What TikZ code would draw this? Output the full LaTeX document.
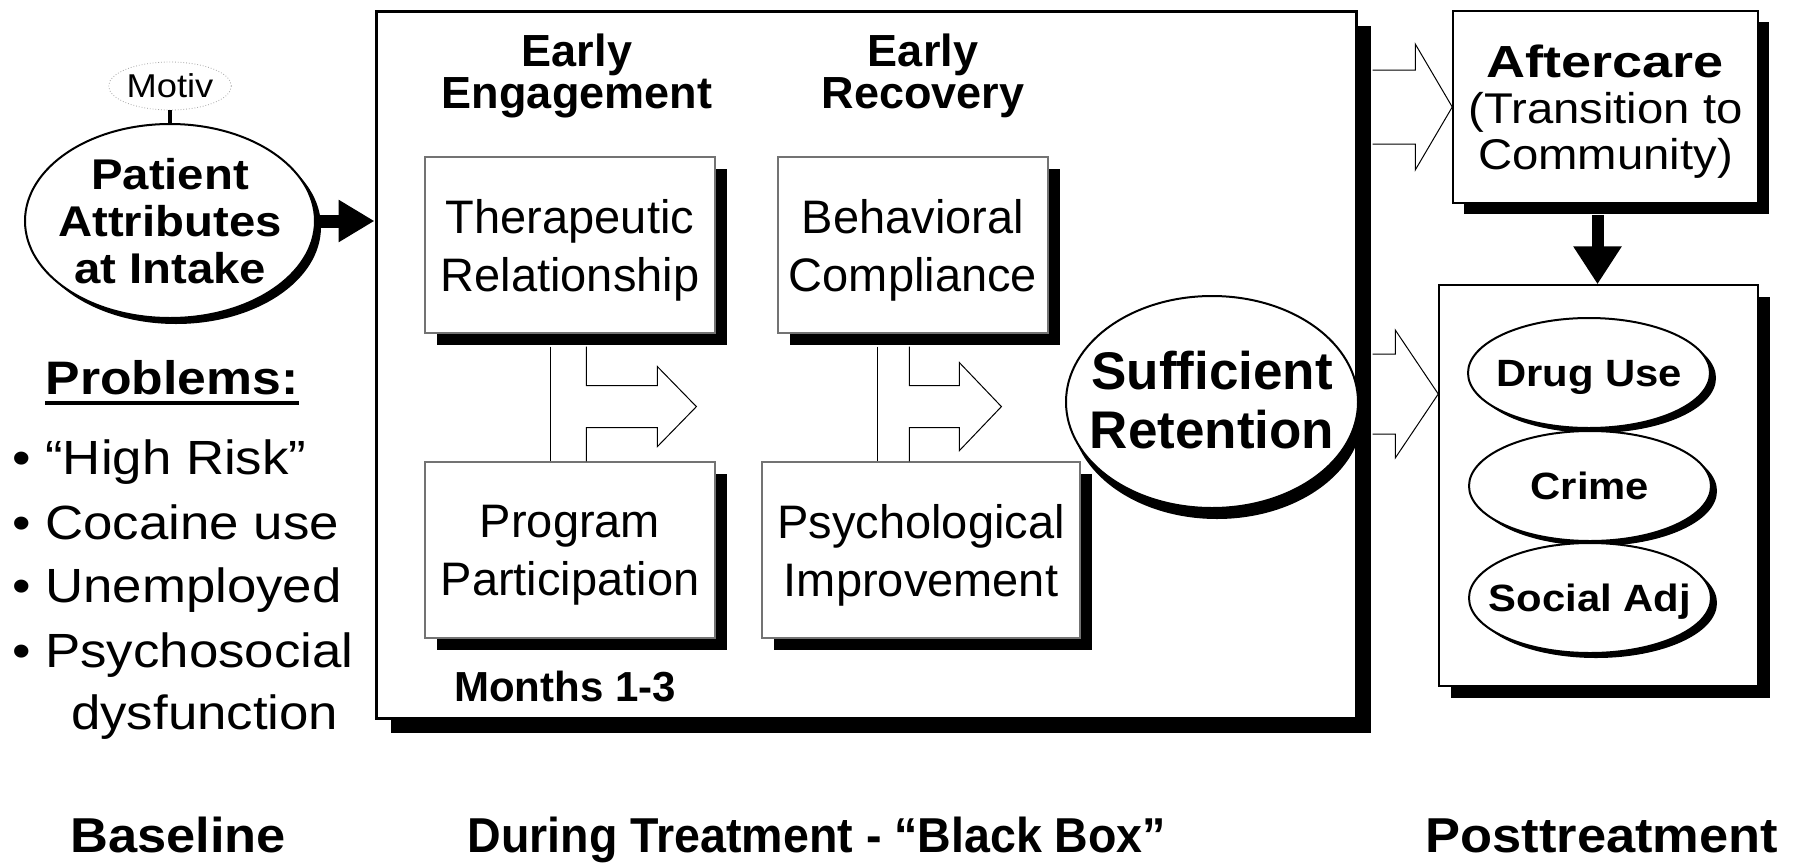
\documentclass[tikz,border=0pt]{standalone}
\usepackage{fontspec}
\setmainfont{Liberation Sans}
\newfontfamily\fA[FakeStretch=1.2]{Liberation Sans}
\newfontfamily\fB[FakeStretch=1.1]{Liberation Sans}
\newfontfamily\fC[FakeStretch=1.07]{Liberation Sans}
\newfontfamily\fD[FakeStretch=0.95]{Liberation Sans}
\usetikzlibrary{shapes.geometric,shadows,arrows.meta,calc}
\begin{document}
\begin{tikzpicture}[x=1pt,y=-1pt,
  shadowed/.style 2 args={drop shadow={shadow xshift=#1, shadow yshift=-#2, fill=black, opacity=1}},
  grayrect/.style={rectangle, draw=black!55, line width=1.2pt, fill=white, align=center, inner sep=0pt,
    minimum height=176pt, text depth=0pt, font=\fontsize{47}{58}\selectfont, shadowed={12pt}{12pt}},
  oval/.style={ellipse, draw, line width=2pt, fill=white, inner sep=0pt},
  outc/.style={oval, minimum width=242pt, minimum height=110pt, shadowed={6pt}{5pt}},
  outct/.style={lbl, text depth=0pt, font=\fB\bfseries\fontsize{38}{44}\selectfont},
  blockarrow/.style={draw, line width=1pt, line join=miter},
  lbl/.style={inner sep=0pt, align=center}
]
\fill[white] (0,0) rectangle (1802,865);
\useasboundingbox (0,0) rectangle (1802,865);

% Baseline column
\node[lbl, ellipse, draw=black!35, dotted, line width=0.8pt, minimum width=94pt, minimum height=48pt,
  font=\fB\fontsize{33}{36}\selectfont] (mot) at (170,86) {Motiv};
\node[oval, minimum width=290pt, minimum height=194pt, shadowed={6pt}{6pt}] (pat) at (170,221) {};
\node[lbl, text depth=0pt, font=\fB\bfseries\fontsize{43}{47}\selectfont] (patt) at (pat.center) {Patient\\Attributes\\at Intake};
\draw[line width=4pt] (mot.south) -- (pat.north);

\node[lbl, anchor=base, font=\fB\bfseries\fontsize{47}{50}\selectfont] (prob) at (172,394) {Problems:};
\draw[line width=3.5pt] ([yshift=-9pt]prob.base west) -- ([yshift=-9pt]prob.base east);

\node[lbl, anchor=base west, font=\fB\fontsize{48}{50}\selectfont] (b1) at (12,474) {•\ “High Risk”};
\node[lbl, anchor=base west, font=\fB\fontsize{48}{50}\selectfont] (b2) at (12,539) {•\ Cocaine use};
\node[lbl, anchor=base west, font=\fB\fontsize{48}{50}\selectfont] (b3) at (12,602) {•\ Unemployed};
\node[lbl, anchor=base west, font=\fB\fontsize{48}{50}\selectfont] (b4) at (12,667) {•\ Psychosocial};
\node[lbl, anchor=base west, font=\fB\fontsize{48}{50}\selectfont] (b5) at (71,729) {dysfunction};

% Black box
\node[draw, line width=3pt, fill=white, minimum width=980pt, minimum height=707pt, inner sep=0pt,
  shadowed={15pt}{15pt}] (bb) at (866,364.5) {};
\draw[line width=13pt, -{Triangle[length=36pt,width=40pt]}] (pat.east) -- (pat.east -| bb.west);

\node[lbl, font=\bfseries\fontsize{45}{38}\selectfont] (ee) at (577,76) {Early\\Engagement};
\node[lbl, font=\bfseries\fontsize{45}{38}\selectfont] (er) at (923,76) {Early\\Recovery};

\node[grayrect, minimum width=290pt] (tr) at (570,245) {Therapeutic\\Relationship};
\node[grayrect, minimum width=270pt] (br) at (913,245) {Behavioral\\Compliance};
\node[grayrect, minimum width=290pt] (pp) at (570,550) {Program\\Participation};
\node[grayrect, minimum width=318pt] (ps) at (921,550) {Psychological\\Improvement};

\draw[blockarrow] ($(tr.south west)+(126,13)$) -- ($(pp.north west)+(126,0)$);
\draw[blockarrow] ($(tr.south west)+(162,13)$) -- ++(0,39) -- ++(71,0) -- ++(0,-19) -- ++(39,40)
  -- ++(-39,40) -- ++(0,-19) -- ++(-71,0) -- ($(pp.north west)+(162,0)$);
\draw[blockarrow] ($(br.south west)+(100,13)$) -- ($(ps.north west)+(116,0)$);
\draw[blockarrow] ($(br.south west)+(132,13)$) -- ++(0,39) -- ++(50,0) -- ++(0,-23) -- ++(42,44)
  -- ++(-42,44) -- ++(0,-23) -- ++(-50,0) -- ($(ps.north west)+(148,0)$);

\node[oval, minimum width=292pt, minimum height=212pt, shadowed={5pt}{11pt}] (suf) at (1212,402) {};
\node[lbl, text depth=0pt, font=\bfseries\fontsize{53}{59}\selectfont] (suft) at (1212,400) {Sufficient\\Retention};

\node[lbl, font=\bfseries\fontsize{42}{46}\selectfont] (mo) at (565,687) {Months 1-3};

% Posttreatment column
\node[rectangle, draw, line width=1.5pt, fill=white, minimum width=305pt, minimum height=192pt, inner sep=0pt,
  align=center, text depth=0pt, shadowed={11pt}{11pt}, font=\fB\fontsize{43}{46}\selectfont] (aft) at (1605.5,107)
  {{\fA\bfseries\fontsize{45}{46}\selectfont Aftercare}\\(Transition to\\Community)};
\node[rectangle, draw, line width=1.5pt, fill=white, minimum width=319pt, minimum height=401pt, inner sep=0pt,
  shadowed={12pt}{12pt}] (ob) at (1598.5,485.5) {};
\node[outc] (du) at (1589,373) {};
\node[outct] (dut) at (du.center) {Drug Use};
\node[outc] (cr) at (1590,486) {};
\node[outct] (crt) at (cr.center) {Crime};
\node[outc] (sa) at (1590,598) {};
\node[outct] (sat) at (sa.center) {Social Adj};

\draw[blockarrow] ($(aft.west -| bb.east)+(15,-37)$) -- ($(aft.west)+(-37,-37)$) -- ($(aft.west)+(-37,-63)$)
  -- (aft.west) -- ($(aft.west)+(-37,63)$) -- ($(aft.west)+(-37,37)$) -- ($(aft.west -| bb.east)+(15,37)$);
\coordinate (t2) at ($(ob.west |- suf.center)+(0,-8)$);
\draw[blockarrow] ($(t2 -| bb.east)+(15,-40)$) -- ($(t2)+(-43,-40)$) -- ($(t2)+(-43,-64)$)
  -- (t2) -- ($(t2)+(-43,64)$) -- ($(t2)+(-43,40)$) -- ($(t2 -| bb.east)+(15,40)$);

\draw[line width=12pt, -{Triangle[length=38pt,width=46pt]}] ($(aft.south)+(-8,11)$) -- ($(aft.south |- ob.north)+(-8,0)$);

% Bottom labels
\node[lbl, anchor=base, font=\fC\bfseries\fontsize{49}{52}\selectfont] (lbase) at (178,852) {Baseline};
\node[lbl, anchor=base, font=\fD\bfseries\fontsize{49}{52}\selectfont] (ldur) at (817,852) {During Treatment - “Black Box”};
\node[lbl, anchor=base, font=\fC\bfseries\fontsize{49}{52}\selectfont] (lpost) at (1602,852) {Posttreatment};
\end{tikzpicture}
\end{document}
